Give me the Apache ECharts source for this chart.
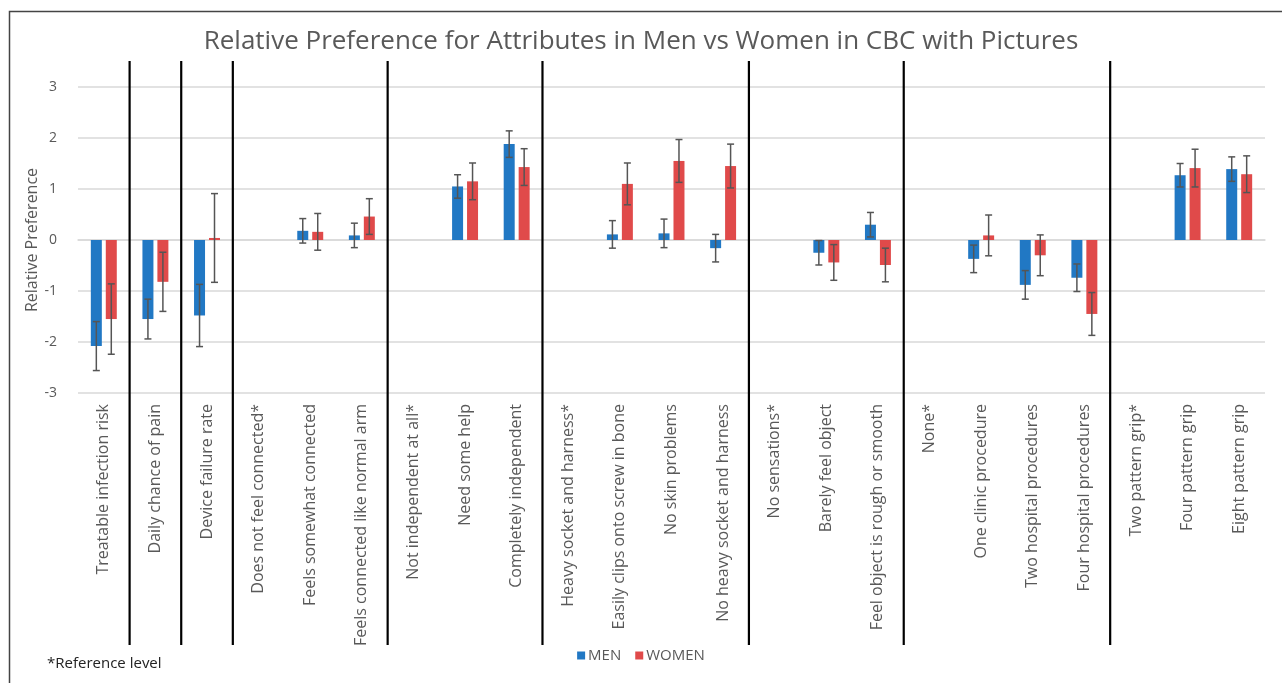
<!DOCTYPE html>
<html>
<head>
<meta charset="utf-8">
<title>Relative Preference</title>
<script src="https://cdn.jsdelivr.net/npm/echarts@6/dist/echarts.min.js"></script>
<style>
    html, body { margin: 0; padding: 0; background: #fff; }
    #chart { width: 1282px; height: 683px; }
</style>
</head>
<body>
<div id="chart"></div>
<script>
var categories = [
    'Treatable infection risk', 'Daily chance of pain', 'Device failure rate',
    'Does not feel connected*', 'Feels somewhat connected', 'Feels connected like normal arm',
    'Not independent at all*', 'Need some help', 'Completely independent',
    'Heavy socket and harness*', 'Easily clips onto screw in bone', 'No skin problems', 'No heavy socket and harness',
    'No sensations*', 'Barely feel object', 'Feel object is rough or smooth',
    'None*', 'One clinic procedure', 'Two hospital procedures', 'Four hospital procedures',
    'Two pattern grip*', 'Four pattern grip', 'Eight pattern grip'
];
// attribute groups (number of levels), the black dividers go between them
var groupSizes = [1, 1, 1, 3, 3, 4, 3, 4, 3];

var menValues = [-2.08, -1.55, -1.48, null, 0.18, 0.09, null, 1.05, 1.88, null, 0.11, 0.13, -0.16, null, -0.25, 0.30, null, -0.37, -0.88, -0.74, null, 1.27, 1.39];
var menErrors = [0.48, 0.39, 0.61, null, 0.24, 0.24, null, 0.23, 0.26, null, 0.27, 0.28, 0.27, null, 0.24, 0.24, null, 0.27, 0.28, 0.27, null, 0.23, 0.24];
var womenValues = [-1.55, -0.82, 0.04, null, 0.16, 0.46, null, 1.15, 1.43, null, 1.10, 1.55, 1.45, null, -0.44, -0.49, null, 0.09, -0.30, -1.45, null, 1.41, 1.29];
var womenErrors = [0.69, 0.58, 0.87, null, 0.36, 0.35, null, 0.36, 0.36, null, 0.41, 0.42, 0.43, null, 0.35, 0.33, null, 0.40, 0.40, 0.42, null, 0.37, 0.36];

var yTicks = [-3, -2, -1, 0, 1, 2, 3];

var BAR_W = 11;
var BAR_GAP = 0.36;
var FONT = '"Open Sans", Lato, sans-serif';
var TEXT = '#595959';

function barData(values) {
    return values.map(function (v) { return v === null ? '-' : v; });
}

function errData(values, errors) {
    var out = [];
    values.forEach(function (v, i) {
        if (v === null) return;
        out.push([i, v - errors[i], v + errors[i]]);
    });
    return out;
}

// error bar with caps, shifted to sit on the men (-1) or women (+1) bar
function errRender(side) {
    return function (params, api) {
        var idx = api.value(0);
        var lo = api.coord([idx, api.value(1)]);
        var hi = api.coord([idx, api.value(2)]);
        var dx = side * (BAR_W + BAR_W * BAR_GAP) / 2;
        var x = lo[0] + dx;
        var cap = 3.5;
        var style = {stroke: '#555555', lineWidth: 1.5};
        return {
            type: 'group',
            children: [
                {type: 'line', shape: {x1: x, y1: lo[1], x2: x, y2: hi[1]}, style: style},
                {type: 'line', shape: {x1: x - cap, y1: lo[1], x2: x + cap, y2: lo[1]}, style: style},
                {type: 'line', shape: {x1: x - cap, y1: hi[1], x2: x + cap, y2: hi[1]}, style: style}
            ]
        };
    };
}

// divider positions = cumulative group sizes (category boundaries)
var dividers = [];
var acc = 0;
groupSizes.slice(0, -1).forEach(function (n) {
    acc += n;
    dividers.push([acc, 0]);
});

var chart = echarts.init(document.getElementById('chart'));

var option = {
    backgroundColor: '#fff',
    animation: false,
    textStyle: {fontFamily: FONT},
    title: {
        text: 'Relative Preference for Attributes in Men vs Women in CBC with Pictures',
        left: 'center',
        top: 24,
        textStyle: {fontFamily: FONT, fontSize: 26, fontWeight: 'normal', color: TEXT}
    },
    legend: {
        data: ['MEN', 'WOMEN'],
        left: 'center',
        top: 643,
        icon: 'rect',
        itemWidth: 8,
        itemHeight: 8,
        itemGap: 14,
        textStyle: {fontFamily: FONT, fontSize: 15, color: TEXT, padding: [0, 0, 0, -2]}
    },
    grid: {left: 78, right: 17, top: 87, bottom: 290, containLabel: false},
    xAxis: {
        type: 'category',
        data: categories,
        axisLine: {lineStyle: {color: '#d9d9d9', width: 1.5}},
        axisTick: {show: false},
        axisLabel: {interval: 0, rotate: 90, margin: 11, fontSize: 16, color: TEXT, fontFamily: FONT}
    },
    yAxis: {
        type: 'value',
        min: yTicks[0],
        max: yTicks[yTicks.length - 1],
        interval: 1,
        name: 'Relative Preference',
        nameLocation: 'middle',
        nameGap: 38,
        nameMoveOverlap: false,
        nameTextStyle: {fontSize: 16, color: TEXT, fontFamily: FONT},
        axisLine: {show: false},
        axisTick: {show: false},
        axisLabel: {margin: 21, fontSize: 14, color: TEXT, fontFamily: FONT},
        splitLine: {lineStyle: {color: '#d9d9d9', width: 1.5}}
    },
    series: [
        {
            name: 'MEN',
            type: 'bar',
            data: barData(menValues),
            barWidth: BAR_W,
            barGap: (BAR_GAP * 100) + '%',
            itemStyle: {color: '#2178c4'}
        },
        {
            name: 'WOMEN',
            type: 'bar',
            data: barData(womenValues),
            barWidth: BAR_W,
            itemStyle: {color: '#e04a4a'}
        },
        {
            type: 'custom',
            name: 'menErr',
            data: errData(menValues, menErrors),
            renderItem: errRender(-1),
            encode: {x: 0, y: [1, 2]},
            z: 5
        },
        {
            type: 'custom',
            name: 'womenErr',
            data: errData(womenValues, womenErrors),
            renderItem: errRender(1),
            encode: {x: 0, y: [1, 2]},
            z: 5
        },
        {
            // black group dividers, running above the plot and down through the labels
            type: 'custom',
            name: 'dividers',
            data: dividers,
            clip: false,
            silent: true,
            encode: {x: 0, y: 1},
            renderItem: function (params, api) {
                var pt = api.coord([api.value(0), 0]);
                var x = pt[0] - api.size([1, 0])[0] / 2;
                var cs = params.coordSys;
                return {
                    type: 'line',
                    shape: {x1: x, y1: cs.y - 26, x2: x, y2: cs.y + cs.height + 252},
                    style: {stroke: '#000', lineWidth: 2.2}
                };
            },
            z: 6
        }
    ],
    graphic: [
        {
            type: 'rect',
            left: 7,
            top: 9,
            shape: {width: 1300, height: 700},
            style: {fill: 'none', stroke: '#444', lineWidth: 1.5},
            silent: true
        },
        {
            type: 'text',
            left: 47,
            top: 656,
            style: {text: '*Reference level', fontSize: 15, fill: '#222', fontFamily: FONT}
        }
    ]
};

chart.setOption(option);
window.addEventListener('resize', function () {
    chart.resize();
});
</script>
</body>
</html>
